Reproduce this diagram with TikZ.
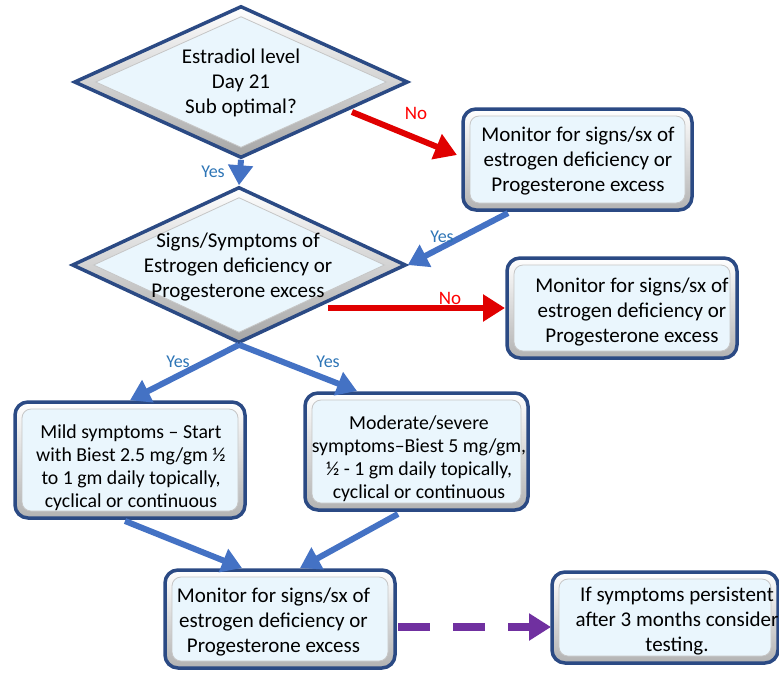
\documentclass[tikz,border=0pt]{standalone}
\usepackage{fontspec}
\setmainfont{Carlito}
\usetikzlibrary{arrows.meta,shapes.geometric}

\definecolor{frameblue}{HTML}{2B4A84}
\definecolor{boxfill}{HTML}{EAF6FD}
\definecolor{arrowblue}{HTML}{4472C4}
\definecolor{yesblue}{HTML}{2E75B6}
\definecolor{nored}{HTML}{FF0000}
\definecolor{arrowred}{HTML}{E00000}
\definecolor{flowpurple}{HTML}{7030A0}

\tikzset{
  box/.style={rectangle, rounded corners=13pt, draw=frameblue, line width=3.5pt,
    top color=white, bottom color=gray!60, inner sep=0pt,
    path picture={\fill[boxfill, draw=gray!45, line width=0.8pt, rounded corners=9pt]
      ([shift={(7pt,-7pt)}]path picture bounding box.north west) rectangle
      ([shift={(-7pt,7pt)}]path picture bounding box.south east);}},
  decision/.style={diamond, draw=frameblue, line width=3.5pt, inner sep=0pt,
    top color=white, bottom color=gray!70,
    path picture={\fill[boxfill, draw=gray!45, line width=0.8pt]
      ([yshift=-10pt]path picture bounding box.north) --
      ([xshift=-21pt]path picture bounding box.east) --
      ([yshift=10pt]path picture bounding box.south) --
      ([xshift=21pt]path picture bounding box.west) -- cycle;}},
  txt/.style={align=center, inner sep=0pt, font=\fontsize{21}{25}\selectfont},
  txtsmall/.style={align=center, inner sep=0pt, font=\fontsize{19.8}{23}\selectfont},
  yesarrow/.style={draw=arrowblue, line width=6pt, -{Triangle[length=20pt,width=24pt]}},
  noarrow/.style={draw=arrowred, line width=6pt, -{Triangle[length=22pt,width=26pt]}},
  dasharrow/.style={draw=flowpurple, line width=8pt, dash pattern=on 32pt off 23pt,
    -{Triangle[length=22pt,width=26pt]}},
  yeslabel/.style={text=yesblue, font=\fontsize{18}{20}\selectfont, inner sep=0pt},
  nolabel/.style={text=nored, font=\fontsize{19}{20}\selectfont, inner sep=0pt},
}

\begin{document}
\begin{tikzpicture}[x=1pt, y=-1pt]
  \useasboundingbox (0,0) rectangle (779,673);
  \clip (0,0) rectangle (779,673);

  % decisions
  \node[decision, minimum width=334pt, minimum height=152pt] (d1) at (241,82) {};
  \node[txt] (d1t) at (241,82.5) {Estradiol level\\Day 21\\Sub optimal?};

  \node[decision, minimum width=334pt, minimum height=156pt] (d2) at (239,265) {};
  \node[txt] (d2t) at (238,267) {Signs/Symptoms of\\Estrogen deficiency or\\Progesterone excess};

  % boxes
  \node[box, minimum width=229pt, minimum height=101pt] (b1) at (577.5,159.5) {};
  \node[txt] (b1t) at (578,161.5) {Monitor for signs/sx of\\estrogen deficiency or\\Progesterone excess};

  \node[box, minimum width=230pt, minimum height=100pt] (b2) at (622,308) {};
  \node[txt] (b2t) at (632,312.5) {Monitor for signs/sx of\\estrogen deficiency or\\Progesterone excess};

  \node[box, minimum width=230pt, minimum height=116pt] (b3) at (130,460) {};
  \node[txtsmall] (b3t) at (131,468) {Mild symptoms -- Start\\with Biest 2.5 mg/gm ½\\to 1 gm daily topically,\\cyclical or continuous};

  \node[box, minimum width=223pt, minimum height=117pt] (b4) at (416.5,451.5) {};
  \node[txtsmall] (b4t) at (419,458.5) {Moderate/severe\\symptoms--Biest 5 mg/gm,\\½ - 1 gm daily topically,\\cyclical or continuous};

  \node[box, minimum width=230pt, minimum height=98pt] (b5) at (280,619) {};
  \node[txt] (b5t) at (273.5,622.5) {Monitor for signs/sx of\\estrogen deficiency or\\Progesterone excess};

  \node[box, minimum width=226pt, minimum height=91pt] (b6) at (665,617.5) {};
  \node[txt] (b6t) at (677,621) {If symptoms persistent\\after 3 months consider\\testing.};

  % free ends of connectors
  \coordinate (no1s) at (352,112);
  \coordinate (no1e) at (457,155);
  \coordinate (yes1s) at (508,213);
  \coordinate (no2s) at (328,308);
  \coordinate (no2e) at (505,308);
  \coordinate (yes3e) at (357,391);
  \coordinate (m1s) at (125,521);
  \coordinate (m1e) at (242,568);
  \coordinate (m2s) at (398,514);
  \coordinate (m2e) at (300,568);
  \coordinate (ps) at (398,627);
  \coordinate (pe) at (551,627);

  % connectors
  \draw[yesarrow] (d1.south) -- (d2.north);
  \draw[noarrow] (no1s) -- (no1e);
  \draw[yesarrow] (yes1s) -- (d2.east);
  \draw[noarrow] (no2s) -- (no2e);
  \draw[yesarrow] (d2.south) -- (b3.north);
  \draw[yesarrow] (d2.south) -- (yes3e);
  \draw[yesarrow] (m1s) -- (m1e);
  \draw[yesarrow] (m2s) -- (m2e);
  \draw[dasharrow] (ps) -- (pe);

  % branch labels
  \node[nolabel] (l1) at (416,113) {No};
  \node[yeslabel] (l2) at (213,172) {Yes};
  \node[yeslabel] (l3) at (442,237) {Yes};
  \node[nolabel] (l4) at (450,298) {No};
  \node[yeslabel] (l5) at (178,362) {Yes};
  \node[yeslabel] (l6) at (328,362) {Yes};
\end{tikzpicture}
\end{document}
